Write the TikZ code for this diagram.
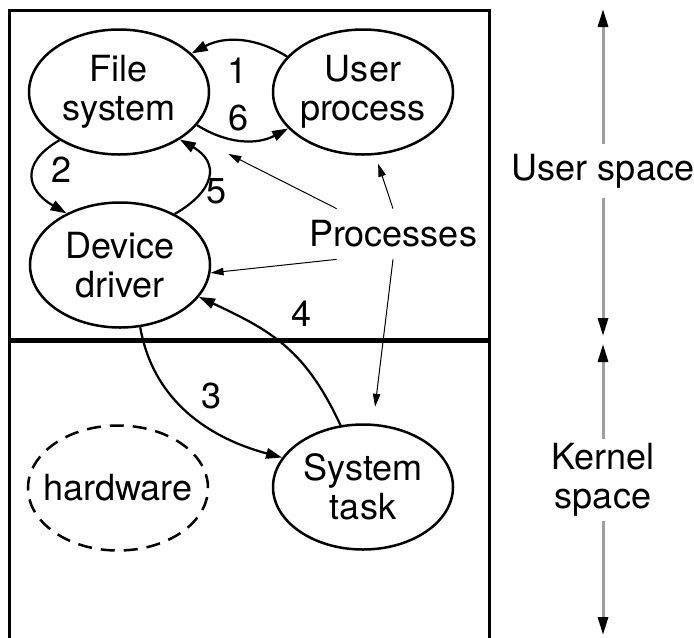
\documentclass[tikz,border=0pt]{standalone}
\usepackage{fontspec}
\setmainfont{TeX Gyre Heros}
\usetikzlibrary{shapes.geometric,arrows.meta}
\definecolor{spacegray}{gray}{0.62}
\tikzset{
  oval/.style={ellipse, draw, line width=0.5mm, minimum width=36mm, minimum height=25mm, inner sep=0pt, align=center},
  msg/.style={->, line width=0.45mm},
  pointer/.style={-{Triangle[length=2.6mm,width=1.5mm]}, line width=0.2mm},
  lbl/.style={inner sep=0pt},
  side/.style={inner xsep=0pt, align=center},
  extent/.style={-{Triangle[length=3.6mm,width=2mm,color=black]}, line width=0.6mm, spacegray}
}
\begin{document}
\begin{tikzpicture}[x=0.2mm, y=-0.2mm, >={Triangle[length=3.2mm,width=2.1mm]},
  font=\fontsize{20.5}{22.5}\selectfont]
\useasboundingbox (0,0) rectangle (694,637);
% frame, split into user and kernel part
\draw[line width=0.6mm] (9,10) rectangle (489,642);
\draw[line width=1mm] (9,340) -- (489,340);

\node[oval] (fs) at (119,92) {File\\system};
\node[oval] (up) at (363,92) {User\\process};
\node[oval] (dd) at (120,265) {Device\\driver};
\node[oval] (st) at (363,487) {System\\task};
\node[oval, dash pattern=on 2.8mm off 1.8mm, inner xsep=-2.4mm] (hw) at (118,488) {hardware};
\node[minimum height=10mm, inner xsep=0pt] (pr) at (393,234) {Processes};

% message path
\draw[msg] (up.155) to[bend right=30] (fs.28);
\draw[msg] (fs.219) to[out=210, in=150, looseness=1.6] (dd.136);
\draw[msg] (dd.-72) to[out=-80, in=165] (st.160);
\draw[msg] (st.110) to[out=115, in=-25, looseness=1.1] (dd.-22);
\draw[msg] (dd.43) to[out=30, in=-30, looseness=1.6] (fs.-38);
\draw[msg] (fs.-23) to[bend right=30] (up.206);
\node[lbl] (n1) at (238,71) {1};
\node[lbl] (n2) at (62,170) {2};
\node[lbl] (n3) at (212,396) {3};
\node[lbl] (n4) at (302,314) {4};
\node[lbl] (n5) at (217,191) {5};
\node[lbl] (n6) at (239,118) {6};

\draw[pointer, shorten >=9mm] ([xshift=5.6mm]pr.north west) -- (fs.-31);
\draw[pointer] ([xshift=5.6mm]pr.south west) -- (dd.-5);
\draw[pointer, shorten >=1.8mm] (pr.north) -- (up.-79);
\draw[pointer, shorten >=3.4mm] (pr.south) -- (st.81);

% user and kernel space extents
\coordinate (ustop) at (603,9);
\coordinate (usbot) at (603,336);
\coordinate (kstop) at (603,344);
\coordinate (ksbot) at (603,635);
\node[side, inner ysep=2mm] (us) at (603,171) {User space};
\node[side, inner ysep=0.8mm] (ks) at (603,480) {Kernel\\space};
\draw[extent] (us.north) -- (ustop);
\draw[extent] (us.south) -- (usbot);
\draw[extent] (ks.north) -- (kstop);
\draw[extent] (ks.south) -- (ksbot);
\end{tikzpicture}
\end{document}
